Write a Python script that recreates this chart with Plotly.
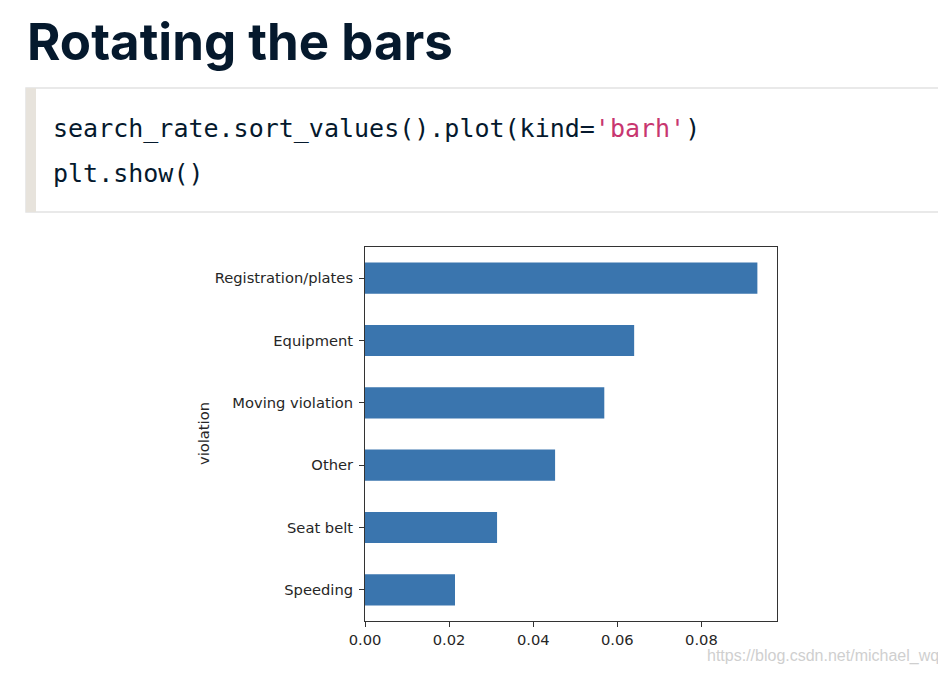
import plotly.graph_objects as go

# ---- data ----
violations = ["Speeding", "Seat belt", "Other", "Moving violation", "Equipment", "Registration/plates"]
search_rate = [0.0214, 0.0314, 0.0452, 0.0569, 0.0640, 0.0933]
x_tick_vals = [0.00, 0.02, 0.04, 0.06, 0.08]
x_tick_text = ["0.00", "0.02", "0.04", "0.06", "0.08"]

OFF = 8  # page body margin
W, H = 946 - OFF, 674 - OFF
L, R, T, B = 365 - OFF, 777 - OFF, 247 - OFF, 621 - OFF  # plot area in figure pixels


def px(x):
    return (x - OFF - L) / (R - L)


def py(y):
    return (B - (y - OFF)) / (B - T)


fig = go.Figure(
    go.Bar(
        x=search_rate,
        y=violations,
        orientation="h",
        width=0.5,
        marker=dict(color="#3a75ae", line=dict(width=0)),
        hoverinfo="x+y",
    )
)

tick_font = dict(family="DejaVu Sans", size=14.7, color="#262626")

fig.update_layout(
    width=W,
    height=H,
    margin=dict(l=L, r=W - R, t=T, b=H - B, pad=0),
    paper_bgcolor="white",
    plot_bgcolor="white",
    showlegend=False,
    xaxis=dict(
        range=[0, max(search_rate) * 1.05],
        tickvals=x_tick_vals,
        ticktext=x_tick_text,
        ticks="outside",
        ticklen=5,
        tickcolor="#333",
        showline=True,
        linecolor="#333",
        linewidth=1,
        mirror=True,
        showgrid=False,
        zeroline=False,
        tickfont=tick_font,
        fixedrange=True,
    ),
    yaxis=dict(
        range=[-0.5, len(violations) - 0.5],
        ticks="outside",
        ticklen=5,
        tickcolor="#333",
        showline=True,
        linecolor="#333",
        linewidth=1,
        mirror=True,
        showgrid=False,
        zeroline=False,
        tickfont=tick_font,
        ticklabelstandoff=3,
        fixedrange=True,
    ),
)

shapes = [
    # code block box
    dict(type="rect", xref="paper", yref="paper",
         x0=px(26), x1=px(952), y0=py(212), y1=py(88),
         fillcolor="white", line=dict(color="#e2e2e2", width=1.5), layer="below"),
    # left beige bar
    dict(type="rect", xref="paper", yref="paper",
         x0=px(26), x1=px(36), y0=py(212), y1=py(88),
         fillcolor="#e7e3dc", line=dict(width=0), layer="below"),
]
fig.update_layout(shapes=shapes)

annotations = [
    dict(text="Rotating the bars", xref="paper", yref="paper",
         x=px(25), y=py(41), xanchor="left", yanchor="middle", showarrow=False,
         font=dict(family="Inter", size=51, color="#05192d", weight=700)),
    dict(text="search_rate.sort_values().plot(kind=<span style='color:#c8366f'>'barh'</span>)",
         xref="paper", yref="paper",
         x=px(51), y=py(128), xanchor="left", yanchor="middle", showarrow=False,
         font=dict(family="DejaVu Sans Mono", size=25, color="#05192d")),
    dict(text="plt.show()", xref="paper", yref="paper",
         x=px(51), y=py(173), xanchor="left", yanchor="middle", showarrow=False,
         font=dict(family="DejaVu Sans Mono", size=25, color="#05192d")),
    dict(text="violation", xref="paper", yref="paper",
         x=px(203), y=py(434), xanchor="center", yanchor="middle", showarrow=False,
         textangle=-90, font=dict(family="DejaVu Sans", size=14.7, color="#262626")),
    dict(text="https://blog.csdn.net/michael_wq", xref="paper", yref="paper",
         x=px(705), y=py(656), xanchor="left", yanchor="middle", showarrow=False,
         font=dict(family="Liberation Sans", size=16, color="#cfcfcf")),
]
fig.update_layout(annotations=annotations)

fig.write_html("out.html", config={"displayModeBar": False})
